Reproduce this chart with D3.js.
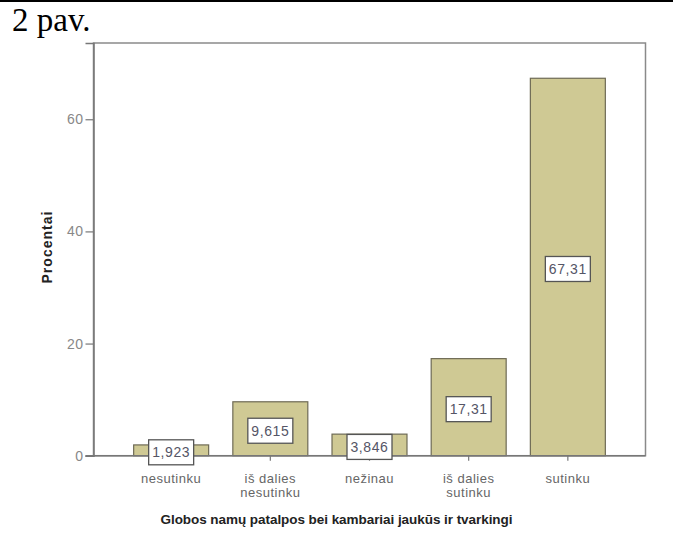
<!DOCTYPE html>
<html>
<head>
<meta charset="utf-8">
<script src="https://cdn.jsdelivr.net/npm/d3@7"></script>
<style>
  html, body { margin: 0; padding: 0; background: #fff; }
  svg { display: block; }
</style>
</head>
<body>
<svg id="chart" width="673" height="548"></svg>
<script>
const categories = [["nesutinku"], ["iš dalies", "nesutinku"], ["nežinau"], ["iš dalies", "sutinku"], ["sutinku"]];
const values = [1.923, 9.615, 3.846, 17.31, 67.31];
const valueLabels = ["1,923", "9,615", "3,846", "17,31", "67,31"];
const yTicks = [0, 20, 40, 60];
const figureLabel = "2 pav.";
const xTitle = "Globos namų patalpos bei kambariai jaukūs ir tvarkingi";
const yTitle = "Procentai";

const svg = d3.select("#chart");
const plotLeft = 93.5, plotRight = 645.5, plotTop = 43, plotBottom = 455.7;
const sans = "'Liberation Sans', Arial, sans-serif";

// top rule
svg.append("rect").attr("x", 0).attr("y", 0).attr("width", 673).attr("height", 2).attr("fill", "#000");

svg.append("text").attr("x", 12).attr("y", 31)
  .attr("font-family", "'Liberation Serif', 'Times New Roman', serif")
  .attr("font-size", 33).attr("fill", "#000").text(figureLabel);

const y = d3.scaleLinear().domain([0, 73.6]).range([plotBottom, plotTop]);
const x = d3.scaleBand().domain(d3.range(values.length)).range([plotLeft, plotRight])
  .paddingInner(0.244).paddingOuter(0.405);

// frame
svg.append("rect").attr("x", plotLeft).attr("y", plotTop).attr("width", plotRight - plotLeft).attr("height", plotBottom - plotTop)
  .attr("fill", "none").attr("stroke", "#8a8a8a").attr("stroke-width", 1.5);

// bars
svg.selectAll("rect.bar").data(values).enter().append("rect").attr("class", "bar")
  .attr("x", (d, i) => x(i)).attr("width", x.bandwidth())
  .attr("y", d => y(d)).attr("height", d => y(0) - y(d))
  .attr("fill", "#cfc994").attr("stroke", "#6e6a55").attr("stroke-width", 1.2);

// y axis
const yAxis = d3.axisLeft(y).tickValues(yTicks).tickSize(8).tickPadding(2);
const gy = svg.append("g").attr("transform", `translate(${plotLeft},0)`).call(yAxis);
gy.select(".domain").attr("stroke", "#777").attr("stroke-width", 1.5);
gy.selectAll(".tick line").attr("stroke", "#777").attr("stroke-width", 1.2);
gy.selectAll(".tick text").attr("font-family", sans)
  .attr("font-size", 14).attr("letter-spacing", 0.5).attr("fill", "#888");

// x axis
const xAxis = d3.axisBottom(x).tickSize(5).tickFormat("");
const gx = svg.append("g").attr("transform", `translate(0,${plotBottom})`).call(xAxis);
gx.select(".domain").attr("stroke", "#777").attr("stroke-width", 1.5).attr("d", `M${plotLeft - 8},0H${plotRight}`);
gx.selectAll(".tick line").attr("stroke", "#777").attr("stroke-width", 1.2);

// category labels
const catG = svg.append("g");
categories.forEach((lines, i) => {
  lines.forEach((ln, j) => {
    catG.append("text").attr("x", x(i) + x.bandwidth() / 2).attr("y", 482.5 + j * 14)
      .attr("text-anchor", "middle").attr("font-family", sans)
      .attr("font-size", 13).attr("letter-spacing", 0.5).attr("fill", "#666").text(ln);
  });
});

// value label boxes
values.forEach((v, i) => {
  const cx = x(i) + x.bandwidth() / 2;
  const cy = (y(v) + y(0)) / 2 + 2;
  svg.append("rect").attr("x", cx - 22.5).attr("y", cy - 12.5).attr("width", 45).attr("height", 25)
    .attr("fill", "#fff").attr("stroke", "#555").attr("stroke-width", 1.3);
  svg.append("text").attr("x", cx).attr("y", cy + 5).attr("text-anchor", "middle")
    .attr("font-family", sans).attr("font-size", 14).attr("letter-spacing", 0.6)
    .attr("fill", "#556").text(valueLabels[i]);
});

// axis titles
svg.append("text").attr("x", 336.5).attr("y", 524).attr("text-anchor", "middle")
  .attr("font-family", sans).attr("font-size", 13.5).attr("textLength", 352).attr("lengthAdjust", "spacing")
  .attr("font-weight", "bold").attr("fill", "#222").text(xTitle);
svg.append("text").attr("transform", "translate(52,247.5) rotate(-90)").attr("text-anchor", "middle")
  .attr("font-family", sans).attr("font-size", 14).attr("textLength", 72).attr("lengthAdjust", "spacing")
  .attr("font-weight", "bold").attr("fill", "#222").text(yTitle);
</script>
</body>
</html>
